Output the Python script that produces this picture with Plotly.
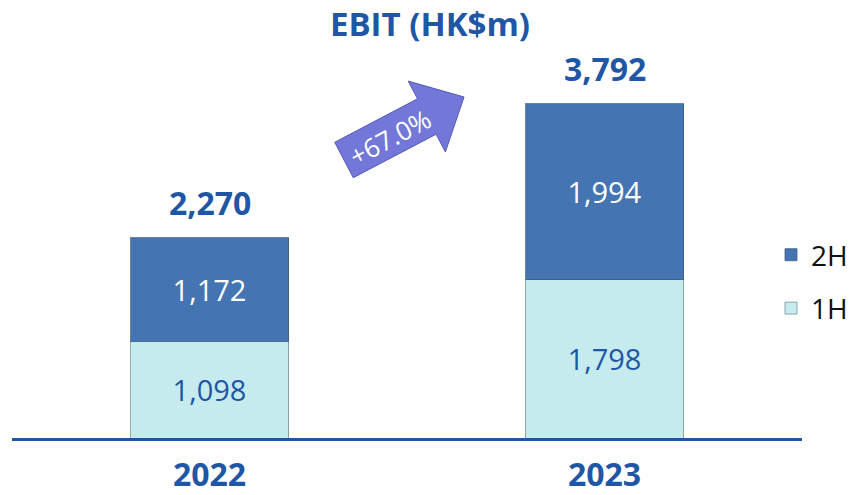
import math
import plotly.graph_objects as go

# ---- data ----
years = ["2022", "2023"]
h1_values = [1098, 1798]
h2_values = [1172, 1994]
series_names = ["1H", "2H"]
title_text = "EBIT (HK$m)"

totals = [a + b for a, b in zip(h1_values, h2_values)]
growth = totals[1] / totals[0] - 1

# ---- styling ----
W, H = 856, 495
M_L, M_R, M_T, M_B = 12, 54, 60, 57
BLUE = "#1F56A5"
C_2H = "#4474B1"
C_1H = "#C6EBEE"
FONT = "Open Sans"

fig = go.Figure()
fig.add_trace(go.Bar(
    x=years, y=h1_values, name=series_names[0], legendgroup="a", legendrank=2,
    marker=dict(color=C_1H, line=dict(color="rgba(110,140,150,0.75)", width=1)),
    text=[f"{v:,}" for v in h1_values], textposition="inside",
    insidetextanchor="middle", textangle=0,
    textfont=dict(family=FONT, size=29, color=BLUE),
    width=0.4, hoverinfo="skip",
))
fig.add_trace(go.Bar(
    x=years, y=h2_values, name=series_names[1], legendgroup="b", legendrank=1,
    marker=dict(color=C_2H, line=dict(color="rgba(60,90,130,0.75)", width=1)),
    text=[f"{v:,}" for v in h2_values], textposition="inside",
    insidetextanchor="middle", textangle=0,
    textfont=dict(family=FONT, size=29, color="white"),
    width=0.4, hoverinfo="skip",
))

# totals above bars (category axis -> serial index)
for i, t in enumerate(totals):
    fig.add_annotation(x=i, y=t, xref="x", yref="y", text=f"<b>{t:,}</b>",
                       showarrow=False, yanchor="bottom", yshift=12,
                       font=dict(family=FONT, size=32, color=BLUE))

# growth arrow (decoration), built in pixel space then mapped to paper
pw = W - M_L - M_R
ph = H - M_T - M_B
def to_paper(px, py):
    return ((px - M_L) / pw, (H - M_B - py) / ph)

m0 = (344, 160)
tip = (464, 97)
dx, dy = tip[0] - m0[0], tip[1] - m0[1]
L = math.hypot(dx, dy)
u = (dx / L, dy / L)
n = (-u[1], u[0])
head_len, bw, hw = 42, 20, 40
def pt(a, b):
    return (m0[0] + a * u[0] + b * n[0], m0[1] + a * u[1] + b * n[1])
a_head = L - head_len
poly = [pt(0, -bw), pt(a_head, -bw), pt(a_head, -hw), pt(L, 0),
        pt(a_head, hw), pt(a_head, bw), pt(0, bw)]
path = "M " + " L ".join(f"{to_paper(x, y)[0]:.4f},{to_paper(x, y)[1]:.4f}" for x, y in poly) + " Z"
fig.add_shape(type="path", path=path, xref="paper", yref="paper", layer="below",
              fillcolor="#7377D7", line=dict(color="#5559B8", width=1))
cx, cy = pt(52, 1)
px_, py_ = to_paper(cx, cy)
angle = int(round(math.degrees(math.atan2(dy, dx))))
fig.add_annotation(x=round(px_, 4), y=round(py_, 4), xref="paper", yref="paper",
                   text="+{:.1f}%".format(growth * 100), showarrow=False,
                   textangle=angle, xanchor="center", yanchor="middle",
                   font=dict(family=FONT, size=26, color="#FFFFFF"))

fig.update_layout(
    width=W, height=H,
    barmode="stack",
    margin=dict(l=M_L, r=M_R, t=M_T, b=M_B, autoexpand=False),
    plot_bgcolor="rgba(0,0,0,0)", paper_bgcolor="white",
    title=dict(text=f"<b>{title_text}</b>", x=430 / W, xanchor="center",
               y=1 - 24 / H, yanchor="middle", xref="container", yref="container",
               font=dict(family=FONT, size=33, color=BLUE)),
    showlegend=True,
    legend=dict(traceorder="grouped", tracegroupgap=14,
                xref="container", yref="container",
                x=771 / W, y=1 - 230 / H, xanchor="left", yanchor="top",
                font=dict(family=FONT, size=28, color="#111111"),
                bgcolor="rgba(0,0,0,0)"),
    xaxis=dict(type="category", showline=True, linecolor=BLUE, linewidth=2.5,
               showgrid=False, ticks="", ticklabelstandoff=7,
               tickfont=dict(family=FONT, size=32, color=BLUE, weight="bold"),
               range=[-0.5, 1.5], fixedrange=True),
    yaxis=dict(range=[0, 4290], visible=False, showgrid=False, zeroline=False,
               fixedrange=True),
)

fig.write_html("out.html", config={"displayModeBar": False},
               post_script="document.body.style.margin='0';")
